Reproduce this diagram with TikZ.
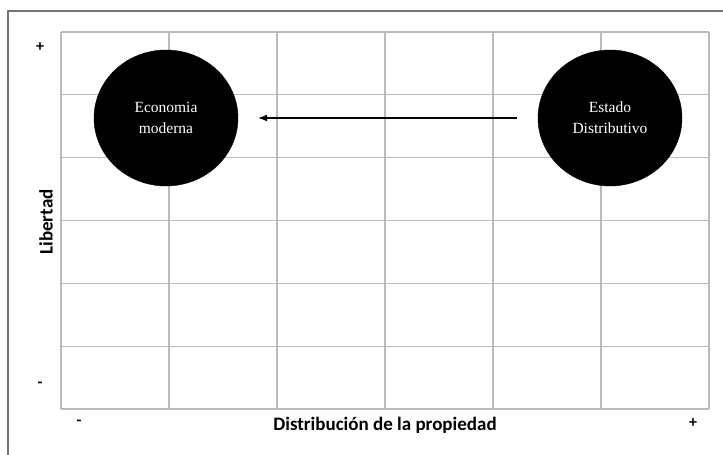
\documentclass[tikz,border=0pt]{standalone}
\usepackage{fontspec}
\setmainfont{Liberation Serif}
\newfontfamily\calibri{Carlito}
\usetikzlibrary{shapes.geometric,arrows.meta}

\begin{document}
\begin{tikzpicture}
        [x=1pt,y=-1pt,
         rejilla/.style={draw=black!27,line width=1.1pt},
         marco/.style={draw=black!55,line width=1.6pt},
         bola/.style={ellipse,fill=black,draw=black,minimum width=144pt,minimum height=136pt,
                      text=white,align=center,font=\fontsize{15.5}{21}\selectfont},
         signo/.style={font=\calibri\bfseries\fontsize{16}{16}\selectfont,inner sep=0pt},
         eje/.style={font=\calibri\bfseries\fontsize{19}{20}\selectfont,inner sep=0pt}]
        \useasboundingbox (0,0) rectangle (723,455);
        \draw[marco] (723,11) -- (8,11) -- (8,455);
        \foreach \x in {0,...,6}
          \draw[rejilla] (61+108*\x,32) -- (61+108*\x,409);
        \foreach \y in {0,...,6}
          \draw[rejilla] (61,32+62.83*\y) -- (709,32+62.83*\y);
        \node[bola] (econ) at (166,118) {Economia\\moderna};
        \node[bola] (estado) at (610,118) {Estado\\Distributivo};
        \draw[-{Latex[length=9pt,width=7pt]},line width=1.2pt,shorten <=21pt,shorten >=20pt]
              (estado.west) -- (econ.east);
        \node[signo] (masy) at (40,47) {+};
        \node[signo] (menosy) at (40,385) {-};
        \node[signo] (menosx) at (79,423) {-};
        \node[signo] (masx) at (693,423) {+};
        \node[eje,rotate=90] (libertad) at (46,222) {Libertad};
        \node[eje] (distribucion) at (385,425) {Distribución de la propiedad};
      \end{tikzpicture}
\end{document}
